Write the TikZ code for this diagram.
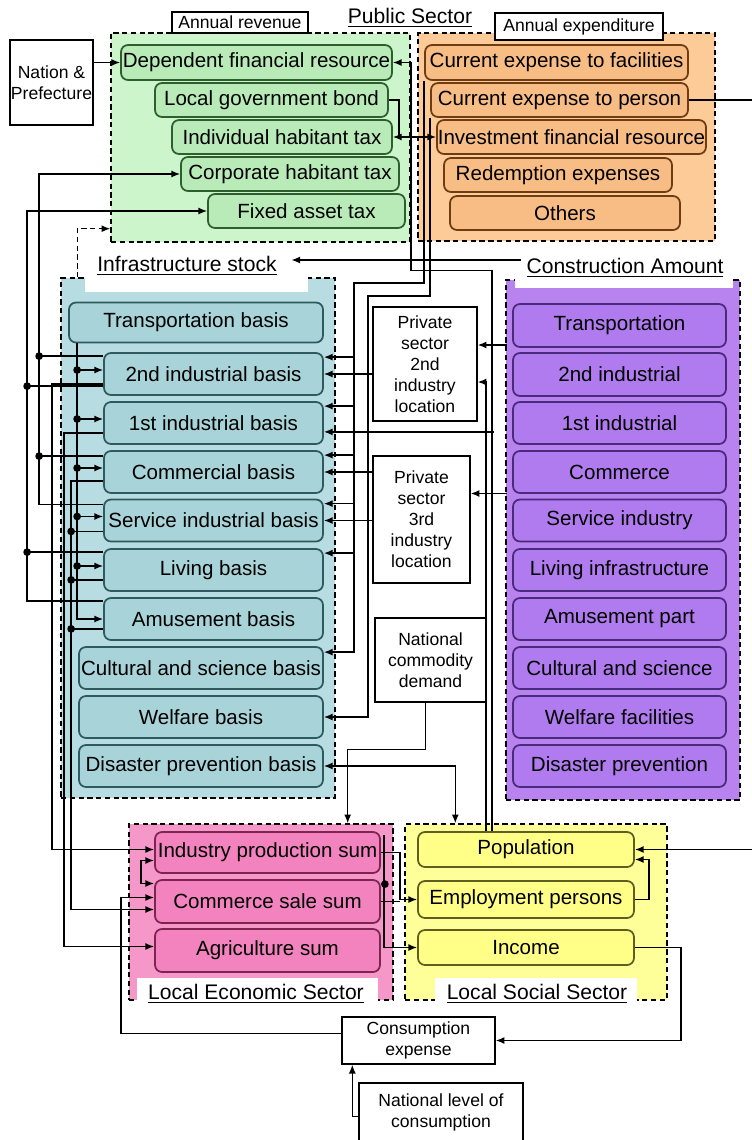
\documentclass[tikz,border=0pt]{standalone}
\usepackage{fontspec}
\setmainfont{Liberation Sans}
\usepackage{xcolor}
\usetikzlibrary{arrows.meta, positioning, calc}
\definecolor{RevenueColor}{HTML}{CCF5CC}
\definecolor{RevenueBox}{HTML}{B8EBB8}
\definecolor{RevenueLine}{HTML}{2E5E2E}
\definecolor{ExpenseColor}{HTML}{FCCB97}
\definecolor{ExpenseBox}{HTML}{F8BC85}
\definecolor{ExpenseLine}{HTML}{6E3B12}
\definecolor{StockColor}{HTML}{B7DDE2}
\definecolor{StockBox}{HTML}{A8D3D8}
\definecolor{StockLine}{HTML}{2D5A5E}
\definecolor{AmountColor}{HTML}{B882EF}
\definecolor{AmountBox}{HTML}{B07BEE}
\definecolor{AmountLine}{HTML}{4A2A7C}
\definecolor{EconColor}{HTML}{F597C9}
\definecolor{EconBox}{HTML}{F283BF}
\definecolor{EconLine}{HTML}{7D2450}
\definecolor{SocialColor}{HTML}{FFFF99}
\definecolor{SocialBox}{HTML}{FFFF88}
\definecolor{SocialLine}{HTML}{5E5E20}

\begin{document}
\begin{tikzpicture}[
    x=0.02cm, y=-0.02cm,
    line width=0.8pt,
    >={Latex[length=5pt, width=4pt]},
    every node/.style={font=\fontsize{11.7}{14}\selectfont, inner sep=0pt},
    dims/.style 2 args={minimum width=#1*0.02cm, minimum height=#2*0.02cm},
    region/.style={draw, dash pattern=on 3pt off 2pt, fill=#1, line width=0.8pt},
    rbox/.style 2 args={draw=#1, fill=#2, rounded corners=4pt, line width=1pt},
    gbox/.style={rbox={RevenueLine}{RevenueBox}},
    obox/.style={rbox={ExpenseLine}{ExpenseBox}},
    tbox/.style={rbox={StockLine}{StockBox}},
    pbox/.style={rbox={AmountLine}{AmountBox}},
    ebox/.style={rbox={EconLine}{EconBox}},
    ybox/.style={rbox={SocialLine}{SocialBox}},
    plain/.style={draw, fill=white, align=center, font=\fontsize{10}{12}\selectfont},
    title/.style={font=\fontsize{12}{14}\selectfont}
]
\useasboundingbox (0,0) rectangle (751,1140);

% Backgrounds
\node[region=RevenueColor, dims={299}{209}] (revenue) at (260.5,137.5) {};
\node[region=ExpenseColor, dims={297}{208}] (expense) at (566.5,137) {};
\node[region=StockColor, dims={274}{520}] (infra) at (198,538) {};
\node[region=AmountColor, dims={234}{520}] (constr) at (623,540) {};
\node[region=EconColor, dims={264}{176}] (econ) at (261,912) {};
\node[region=SocialColor, dims={262}{176}] (social) at (536,912) {};
\fill[white] (85,250) rectangle (308,292);
\fill[white] (515,252) rectangle (733,288);
\fill[white] (137,978) rectangle (378,1006);
\fill[white] (435,978) rectangle (637,1006);

% Labels
\node[title] (pubsec) at (410,18) {\underline{Public Sector}};
\node[plain, dims={136}{21}] (revlbl) at (240,22.5) {Annual revenue};
\node[plain, dims={168}{27}] (explbl) at (579,26.5) {Annual expenditure};
\node[title] (infralbl) at (187,266) {\underline{Infrastructure stock}};
\node[title] (conlbl) at (625,268) {\underline{Construction Amount}};
\node[title] (ecolbl) at (256,994) {\underline{Local Economic Sector}};
\node[title] (soclbl) at (537,994) {\underline{Local Social Sector}};

% Public sector nodes
\node[plain, dims={83}{85}] (nation) at (51.5,82.5) {Nation \&\\Prefecture};
\node[gbox, dims={271}{35}] (dep) at (256.5,62.5) {Dependent financial resource};
\node[gbox, dims={233}{34}] (bond) at (271.5,100) {Local government bond};
\node[gbox, dims={220}{34}] (indiv) at (282,137) {Individual habitant tax};
\node[gbox, dims={218}{34}] (corp) at (290,174) {Corporate habitant tax};
\node[gbox, dims={197}{34}] (fixed) at (306.5,211) {Fixed asset tax};
\node[obox, dims={263}{35}] (facil) at (556.5,62.5) {Current expense to facilities};
\node[obox, dims={257}{34}] (cpers) at (559.5,100) {Current expense to person};
\node[obox, dims={269}{34}] (invest) at (571.5,137) {Investment financial resource};
\node[obox, dims={228}{34}] (redem) at (558,175) {Redemption expenses};
\node[obox, dims={230}{34}] (others) at (565,213) {Others};

% Infrastructure stock nodes
\node[tbox, dims={254}{40}] (trans) at (196,322.5) {Transportation basis};
\node[tbox, dims={219}{42}] (ind2) at (213.5,374) {2nd industrial basis};
\node[tbox, dims={219}{42}] (ind1) at (213.5,423) {1st industrial basis};
\node[tbox, dims={219}{42}] (comm) at (213.5,472) {Commercial basis};
\node[tbox, dims={219}{42}] (serv) at (213.5,520.5) {Service industrial basis};
\node[tbox, dims={219}{42}] (liv) at (213.5,570) {Living basis};
\node[tbox, dims={219}{42}] (amu) at (213.5,619) {Amusement basis};
\node[tbox, dims={244}{42}] (cult) at (201,668) {Cultural and science basis};
\node[tbox, dims={244}{42}] (welf) at (201,717) {Welfare basis};
\node[tbox, dims={244}{42}] (disa) at (201,766) {Disaster prevention basis};

% Construction amount nodes
\node[pbox, dims={213}{43}] (ctrans) at (619.5,325.5) {Transportation};
\node[pbox, dims={213}{43}] (cind2) at (619.5,374.5) {2nd industrial};
\node[pbox, dims={213}{42}] (cind1) at (619.5,423) {1st industrial};
\node[pbox, dims={213}{42}] (ccomm) at (619.5,472) {Commerce};
\node[pbox, dims={213}{42}] (cserv) at (619.5,520.5) {Service industry};
\node[pbox, dims={213}{42}] (cliv) at (619.5,570) {Living infrastructure};
\node[pbox, dims={213}{42}] (camu) at (619.5,619) {Amusement part};
\node[pbox, dims={213}{42}] (ccult) at (619.5,668) {Cultural and science};
\node[pbox, dims={213}{42}] (cwelf) at (619.5,717) {Welfare facilities};
\node[pbox, dims={213}{42}] (cdisa) at (619.5,766) {Disaster prevention};

% Middle nodes
\node[plain, dims={104}{114}] (priv2) at (425,364) {Private\\sector\\2nd\\industry\\location};
\node[plain, dims={97}{127}] (priv3) at (421.5,519.5) {Private\\sector\\3rd\\industry\\location};
\node[plain, dims={111}{84}] (natdem) at (430.5,660) {National\\commodity\\demand};

% Local sector nodes
\node[ebox, dims={225}{41}] (ind) at (267.5,852.5) {Industry production sum};
\node[ebox, dims={225}{43}] (com) at (267.5,901.5) {Commerce sale sum};
\node[ebox, dims={225}{43}] (agr) at (267.5,950.5) {Agriculture sum};
\node[ybox, dims={216}{35}] (pop) at (526,849.5) {Population};
\node[ybox, dims={216}{37}] (emp) at (526,899.5) {Employment persons};
\node[ybox, dims={216}{35}] (inc) at (526,947.5) {Income};
\node[plain, dims={153}{47}] (cons) at (418.5,1040.5) {Consumption\\expense};
\node[plain, dims={164}{59}] (natcons) at (441,1112.5) {National level of\\consumption};

% Public sector edges
\draw[->] (nation.east |- dep.west) -- (dep.west);
\draw[->] (bond.east) -- ++(10,0) |- (invest.west);
\draw[->] ($(pop.north west)+(75,0)$) |- ($(dep.east)+(18,208)$) |- (dep.east);
\draw[->] ($(indiv.east)+(18,0)$) -- (indiv.east);
\draw[->] (cpers.east) -- ++(90,0) |- (pop.east);
\draw[->, dash pattern=on 3pt off 2pt] ($(infra.north west)+(17,0)$) |- ($(revenue.south west)+(0,-14)$);

% Expenditure to stock
\draw[->] (facil.south west) -- ++(0,202) -| ($(cult.north east)+(30,6)$) -- ($(cult.north east)+(0,6)$);
\foreach \b in {ind2,ind1,comm,serv,liv}
  \draw[->] ($(\b.north east)+(30,5)$) -- ($(\b.north east)+(0,5)$);
\draw[->] (cpers.south west) -- ++(0,178) -| ($(welf.east)+(44,0)$) -- (welf.east);

% Private sector and construction edges
\draw[->] (priv2.west |- ind2.east) -- (ind2.east);
\draw[->] (priv3.west |- comm.east) -- (comm.east);
\draw[->] (priv3.west |- serv.east) -- (serv.east);
\draw[->] ($(priv2.east)+(29,-19)$) -- ($(priv2.east)+(0,-19)$);
\draw[->] ($(priv3.east)+(36,-26)$) -- ($(priv3.east)+(0,-26)$);
\draw[->] ($(conlbl.west)+(-5,-8)$) -- ($(infralbl.east)+(14,-6)$);
\draw[->] ($(pop.north west)+(69,0)$) |- ($(priv2.east)+(0,18)$);
\draw[->] ($(ind1.south east)+(170,-13)$) -- ($(ind1.south east)+(0,-13)$);
\draw[->] ($(natdem.south)+(-5,0)$) -- ++(0,47) -| ($(econ.north east)+(-46,0)$);
\draw[<->] (disa.east) -| ($(social.north west)+(51,0)$);

% Stock to taxes
\draw[->] ($(serv.north west)+(0,6)$) -| ($(corp.west)+(-141,0)$) -- (corp.west);
\foreach \b/\d in {ind2/4,comm/6}{
  \draw ($(\b.north west)+(0,\d)$) -- ($(\b.north west)+(-64,\d)$);
  \fill ($(\b.north west)+(-64,\d)$) circle[radius=2.2pt];
}
\draw[->] ($(amu.north west)+(0,4)$) -| ($(fixed.west)+(-180,0)$) -- (fixed.west);
\foreach \b/\d in {ind2/34,liv/4}{
  \draw ($(\b.north west)+(0,\d)$) -- ($(\b.north west)+(-76,\d)$);
  \fill ($(\b.north west)+(-76,\d)$) circle[radius=2.2pt];
}

% Transportation basis to other bases
\draw[->] ($(trans.south west)+(9,0)$) |- (amu.west);
\foreach \b in {ind2,ind1,comm,serv,liv}{
  \draw[->] ($(\b.west)+(-26,-4)$) -- ($(\b.west)+(0,-4)$);
  \fill ($(\b.west)+(-26,-4)$) circle[radius=2.2pt];
}

% Stock to local economy
\draw[->] ($(ind2.south west)+(0,-12)$) -| ($(ind.west)+(-102,-3)$) -- ($(ind.west)+(0,-3)$);
\draw[->] ($(ind1.south west)+(0,-12)$) -| ($(agr.west)+(-90,-4)$) -- ($(agr.west)+(0,-4)$);
\draw[->] ($(comm.south west)+(0,-13)$) -| ($(com.west)+(-83,8)$) -- ($(com.west)+(0,8)$);
\foreach \b/\d in {serv/11,liv/12,amu/12}{
  \draw ($(\b.south west)+(0,-\d)$) -- ($(\b.south west)+(-32,-\d)$);
  \fill ($(\b.south west)+(-32,-\d)$) circle[radius=2.2pt];
}

% Local sector edges
\draw[<->] ($(ind.west)+(0,8)$) -- ++(-13,0) |- ($(com.west)+(0,-18)$);
\draw[->] ($(cons.west)+(0,-7)$) -| ($(com.west)+(-33,-4)$) -- ($(com.west)+(0,-4)$);
\draw[->] (ind.east) -- ++(19,0) |- (emp.west);
\draw (com.east) -- ++(19,0);
\draw[->] ($(ind.north east)+(3,4)$) |- (inc.west);
\fill ($(ind.north east)+(4,53)$) circle[radius=2.2pt];
\draw[->] (emp.east) -- ++(14,0) |- ($(pop.east)+(0,10)$);
\draw[->] (inc.east) -- ++(46,0) |- (cons.east);
\draw[->] ($(natcons.west)+(0,4)$) -| ($(cons.south west)+(11,0)$);
\end{tikzpicture}
\end{document}
